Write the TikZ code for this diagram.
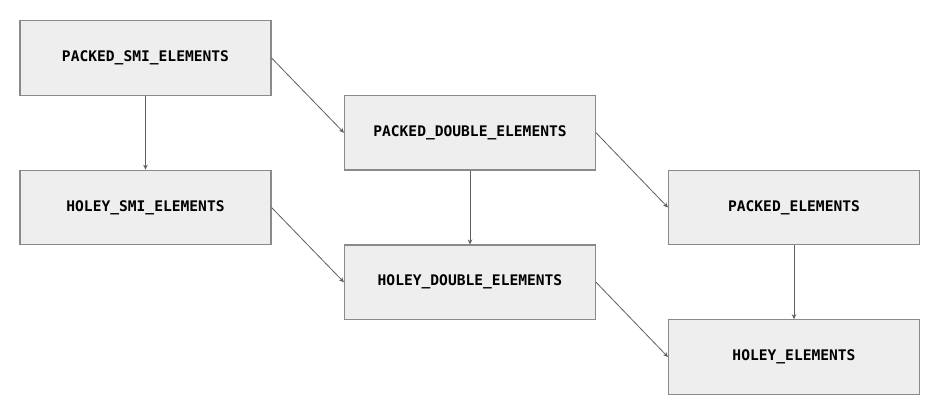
\documentclass[tikz,border=0pt]{standalone}
\usepackage{fontspec}
\setmonofont{DejaVu Sans Mono}
\usetikzlibrary{arrows.meta}
\definecolor{boxfill}{HTML}{EEEEEE}
\definecolor{boxline}{HTML}{8A8A8A}
\definecolor{arrowc}{HTML}{5F5F5F}
\tikzset{
  kindbox/.style={draw=boxline, line width=1.1pt, fill=boxfill, minimum width=251pt, minimum height=74.5pt, inner sep=0pt,
    font=\fontsize{14.6pt}{16pt}\selectfont\ttfamily\bfseries, text=black},
  conn/.style={draw=arrowc, line width=0.8pt, -{Stealth[length=5pt,width=4.5pt]}}
}
\begin{document}
\begin{tikzpicture}[x=1pt,y=1pt]
\useasboundingbox (0,0) rectangle (942,404);
\node[kindbox] (psmi) at (145.5,{404-58}) {PACKED\_SMI\_ELEMENTS};
\node[kindbox] (hsmi) at (145.5,{404-207.5}) {HOLEY\_SMI\_ELEMENTS};
\node[kindbox] (pdbl) at (470,{404-132.75}) {PACKED\_DOUBLE\_ELEMENTS};
\node[kindbox] (hdbl) at (470,{404-282.25}) {HOLEY\_DOUBLE\_ELEMENTS};
\node[kindbox] (pel) at (794,{404-207.5}) {PACKED\_ELEMENTS};
\node[kindbox] (hel) at (794,{404-357}) {HOLEY\_ELEMENTS};
\draw[conn] (psmi.south) -- (hsmi.north);
\draw[conn] (pdbl.south) -- (hdbl.north);
\draw[conn] (pel.south) -- (hel.north);
\draw[conn] (psmi.east) -- (pdbl.west);
\draw[conn] (pdbl.east) -- (pel.west);
\draw[conn] (hsmi.east) -- (hdbl.west);
\draw[conn] (hdbl.east) -- (hel.west);
\end{tikzpicture}
\end{document}
